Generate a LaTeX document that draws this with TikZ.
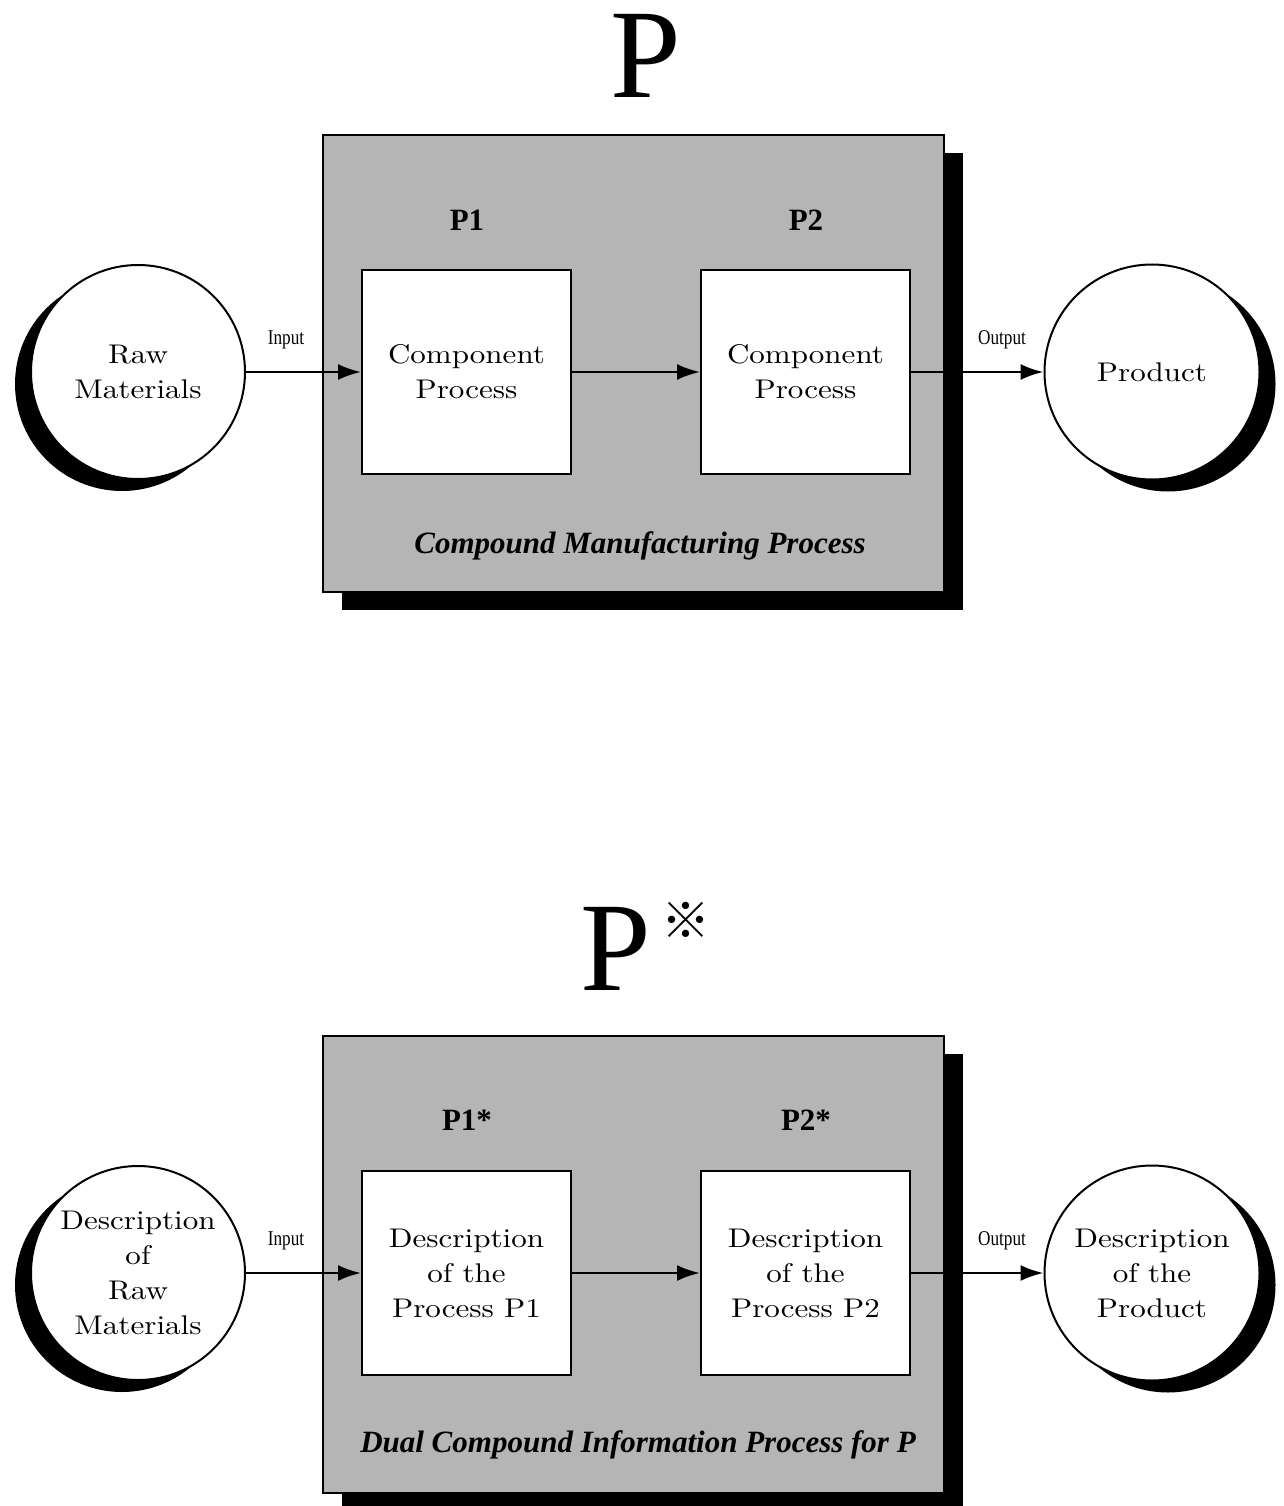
\documentclass[tikz,border=0pt]{standalone}
\usepackage{fontspec}
\usetikzlibrary{shadows,arrows.meta}
\newfontfamily\boxfont{lmroman10-regular}[Extension=.otf, FakeStretch=1.15]
\newfontfamily\tfont{Liberation Serif}
\newfontfamily\iofont{Liberation Serif}[FakeStretch=0.82]
\newfontfamily\cjk{Noto Sans CJK SC}
\newcommand\boxtext{\boxfont\fontsize{27}{35}\selectfont}
\begin{document}
\begin{tikzpicture}[x=1pt,y=-1pt,
  graybox/.style={draw, line width=1.3pt, fill=black!29, minimum width=621pt, minimum height=457pt, inner sep=0pt,
    drop shadow={shadow xshift=19pt, shadow yshift=-18pt, fill=black, opacity=1}},
  procbox/.style={draw, line width=2pt, fill=white, minimum width=209pt, minimum height=204pt, inner sep=0pt, align=center, font=\boxtext},
  leftcirc/.style={circle, draw, line width=2pt, fill=white, minimum size=214pt, inner sep=0pt, align=center, font=\boxtext,
    drop shadow={shadow xshift=-16pt, shadow yshift=-12pt, fill=black, opacity=1}},
  rightcirc/.style={circle, draw, line width=2pt, fill=white, minimum size=215pt, inner sep=0pt, align=center, font=\boxtext,
    drop shadow={shadow xshift=16pt, shadow yshift=-12pt, fill=black, opacity=1}},
  plabel/.style={font=\tfont\bfseries\fontsize{31}{31}\selectfont, inner sep=0pt},
  iolabel/.style={font=\iofont\fontsize{21}{21}\selectfont, inner sep=0pt},
  caption/.style={font=\tfont\bfseries\itshape\fontsize{31}{31}\selectfont, inner sep=0pt},
  bigtitle/.style={font=\tfont\fontsize{127}{127}\selectfont, inner sep=0pt},
  flow/.style={line width=2.5pt, -{Latex[length=23pt,width=16pt]}}
]
\useasboundingbox (0,0) rectangle (1283,1506);

% ---------- top diagram ----------
\node[bigtitle, anchor=base] (T1) at (646,98) {P};
\node[graybox] (G1) at (633.5,363.5) {};
\node[plabel] (L1) at (467,220) {P1};
\node[plabel] (L2) at (806,220) {P2};
\node[procbox] (P1) at (466.5,372) {Component\\Process};
\node[procbox] (P2) at (805.5,372) {Component\\Process};
\node[leftcirc] (RM) at (138,372) {Raw\\Materials};
\node[rightcirc] (PR) at (1152,372) {Product};
\node[iolabel] (in1) at (286,340) {Input};
\node[iolabel] (out1) at (1002,340) {Output};
\draw[flow] (RM) -- (P1);
\draw[flow] (P1) -- (P2);
\draw[flow] (P2) -- (PR);
\node[caption] (C1) at (640,546) {Compound Manufacturing Process};

% ---------- bottom diagram ----------
\node[bigtitle, anchor=base west] (T2) at (580,990) {P\hspace{11pt}\raisebox{52pt}{\fontsize{49}{49}\cjk ※}};
\node[graybox] (G2) at (633.5,1264.5) {};
\node[plabel] (M1) at (467,1120) {P1*};
\node[plabel] (M2) at (806,1120) {P2*};
\node[procbox] (Q1) at (466.5,1273) {Description\\of the\\Process P1};
\node[procbox] (Q2) at (805.5,1273) {Description\\of the\\Process P2};
\node[leftcirc] (DR) at (138,1273) {Description\\of\\Raw\\Materials};
\node[rightcirc] (DP) at (1152,1273) {Description\\of the\\Product};
\node[iolabel] (in2) at (286,1241) {Input};
\node[iolabel] (out2) at (1002,1241) {Output};
\draw[flow] (DR) -- (Q1);
\draw[flow] (Q1) -- (Q2);
\draw[flow] (Q2) -- (DP);
\node[caption] (C2) at (638,1445) {Dual Compound Information Process for P};
\end{tikzpicture}
\end{document}
